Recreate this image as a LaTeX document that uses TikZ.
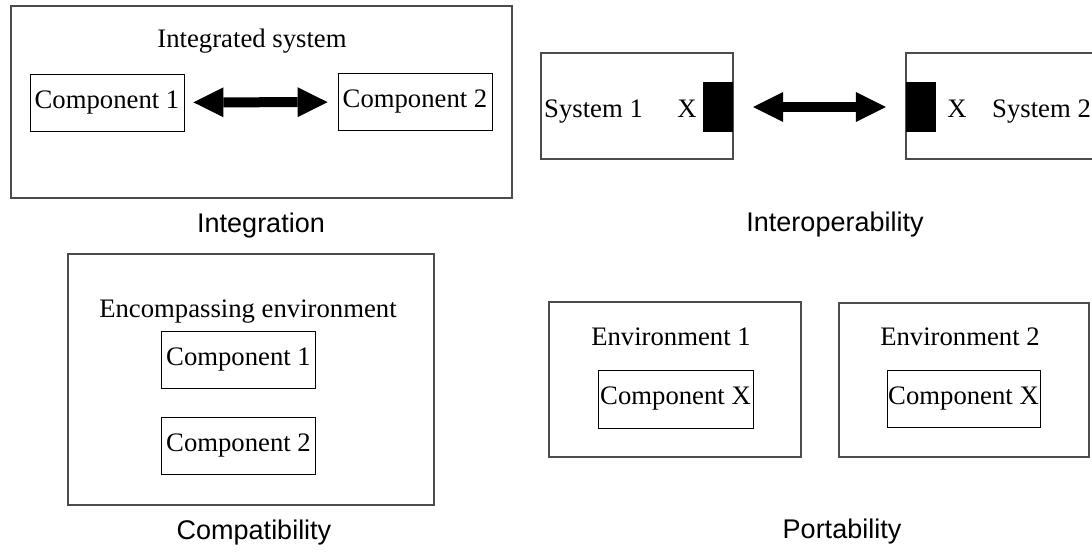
\documentclass[tikz,border=0pt]{standalone}
\usepackage{fontspec}
\setmainfont{Liberation Serif}
\setsansfont{Liberation Sans}
\usetikzlibrary{arrows.meta}
\tikzset{
	outerbox/.style={draw=black!70,line width=1.2pt},
	innerbox/.style={draw=black,line width=0.9pt,minimum width=154pt,minimum height=57pt},
	plug/.style={fill=black,minimum width=30pt,minimum height=50pt},
	caption/.style={font=\sffamily\fontsize{27}{32}\selectfont,anchor=base},
	fatarrow/.style={line width=10pt,arrows={Triangle[width=30pt,length=30pt,line width=0pt]-Triangle[width=30pt,length=30pt,line width=0pt]}},
}

\begin{document}
\begin{tikzpicture}[x=1pt,y=-1pt,inner sep=0pt,font=\fontsize{26.7}{32}\selectfont]
	\useasboundingbox (0,0) rectangle (1092,553);
	\node[outerbox,minimum width=501pt,minimum height=192pt] at (261.5,102) (IS) {};
	\node[anchor=base] at (252,48) (ISt) {Integrated system};
	\node[innerbox] at (107,102.5) (C1) {Component 1};
	\node[innerbox] at (415,102) (C2) {Component 2};
	\draw[fatarrow,shorten <=9pt,shorten >=10pt] (C1) -- (C2);
	\node[caption] at (261,233) (Lint) {Integration};
	\node[outerbox,minimum width=192pt,minimum height=106pt] at (637,106) (S1) {};
	\node[plug] at (718,107) (P1) {};
	\node[anchor=base west] at (544,118) (S1t) {System 1};
	\node[anchor=base] at (687,118) (X1) {X};
	\node[outerbox,minimum width=192pt,minimum height=106pt] at (1002,106) (S2) {};
	\node[plug] at (920.5,107) (P2) {};
	\node[anchor=base] at (957,118) (X2) {X};
	\node[anchor=base west] at (992,118) (S2t) {System 2};
	\draw[fatarrow,shorten <=20pt,shorten >=19.5pt] (P1) -- (P2);
	\node[caption] at (835,232) (Lop) {Interoperability};
	\node[outerbox,minimum width=366pt,minimum height=251pt] at (251,379.5) (EE) {};
	\node[anchor=base] at (248,317) (EEt) {Encompassing environment};
	\node[innerbox] at (238.5,359.5) (E1) {Component 1};
	\node[innerbox] at (238.5,445.5) (E2) {Component 2};
	\node[caption] at (254,539) (Lcomp) {Compatibility};
	\node[outerbox,minimum width=252pt,minimum height=155pt] at (675,379.5) (V1) {};
	\node[anchor=base] at (671,345) (V1t) {Environment 1};
	\node[innerbox,minimum width=155pt,minimum height=58pt] at (675.5,399) (X1b) {Component X};
	\node[outerbox,minimum width=250pt,minimum height=154pt] at (964,380) (V2) {};
	\node[anchor=base] at (960,345) (V2t) {Environment 2};
	\node[innerbox,minimum width=153pt,minimum height=57pt] at (963.5,398.5) (X2b) {Component X};
	\node[caption] at (842,538) (Lport) {Portability};
\end{tikzpicture}
\end{document}
